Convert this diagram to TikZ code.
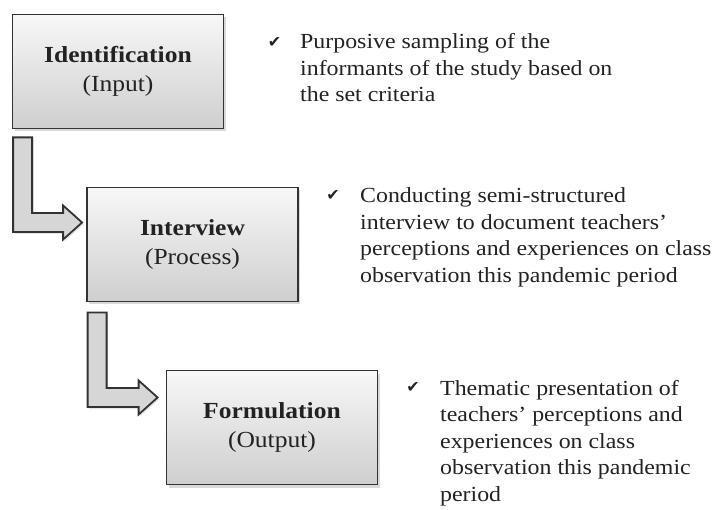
\documentclass[tikz,border=0pt]{standalone}
\usepackage{fontspec}
\setmainfont[FakeStretch=1.11]{Liberation Serif}
\newfontfamily\checkfont{DejaVu Sans}
\usetikzlibrary{calc,shadows}
\definecolor{boxline}{HTML}{333333}
\definecolor{inktext}{HTML}{222222}
\newcommand{\fatconnector}[2]{%
  \draw[fatarrow] ($(#1)+(-9.5,0)$) -- ($(#1)+(9.5,0)$)
    -- ($(#1|-#2)+(9.5,-9.5)$) -- ($(#2)+(-19,-9.5)$) -- ($(#2)+(-19,-17)$)
    -- (#2) -- ($(#2)+(-19,17)$) -- ($(#2)+(-19,9.5)$)
    -- ($(#1|-#2)+(-9.5,9.5)$) -- cycle;}
\begin{document}
\begin{tikzpicture}[x=1pt,y=-1pt,
  stagebox/.style={draw=boxline, line width=1.8pt, top color=gray!6, bottom color=gray!38,
    minimum width=211pt, minimum height=114pt, inner sep=0pt, align=center,
    font=\fontsize{23}{29}\selectfont, text=inktext,
    drop shadow={shadow xshift=2pt, shadow yshift=-3pt, opacity=0.3}},
  bullettext/.style={anchor=base west, inner sep=0pt,
    font=\fontsize{21.5}{26.5}\selectfont, text=inktext},
  tick/.style={inner sep=0pt, font=\checkfont\fontsize{16}{16}\selectfont, text=inktext},
  fatarrow/.style={draw=boxline, line width=1.8pt, fill=gray!32, line join=miter,
    drop shadow={shadow xshift=1.5pt, shadow yshift=-2pt, opacity=0.2}}
]
\path[use as bounding box] (0,0) rectangle (714,510);

\node[stagebox] (b1) at (118,71.5) {\textbf{Identification}\\(Input)};
\node[stagebox] (b2) at (192.5,244.5) {\textbf{Interview}\\(Process)};
\node[stagebox] (b3) at (272,427.5) {\textbf{Formulation}\\(Output)};

\coordinate (a1s) at ($(b1.south west)+(11,8)$);
\coordinate (a1t) at ($(b2.west)+(-4,-22)$);
\coordinate (a2s) at ($(b2.south west)+(11,10)$);
\coordinate (a2t) at ($(b3.west)+(-8,-30)$);
\fatconnector{a1s}{a1t}
\fatconnector{a2s}{a2t}

\node[tick] (c1) at (274.5,42) {✔};
\node[tick] (c2) at (333,195) {✔};
\node[tick] (c3) at (413,387) {✔};

\node[bullettext] (t1) at (300,49) {\begin{tabular}[t]{@{}l@{}}Purposive sampling of the\\informants of the study based on\\the set criteria\end{tabular}};
\node[bullettext] (t2) at (360,203) {\begin{tabular}[t]{@{}l@{}}Conducting semi-structured\\interview to document teachers'\\perceptions and experiences on class\\observation this pandemic period\end{tabular}};
\node[bullettext] (t3) at (440,395) {\begin{tabular}[t]{@{}l@{}}Thematic presentation of\\teachers' perceptions and\\experiences on class\\observation this pandemic\\period\end{tabular}};
\end{tikzpicture}
\end{document}
